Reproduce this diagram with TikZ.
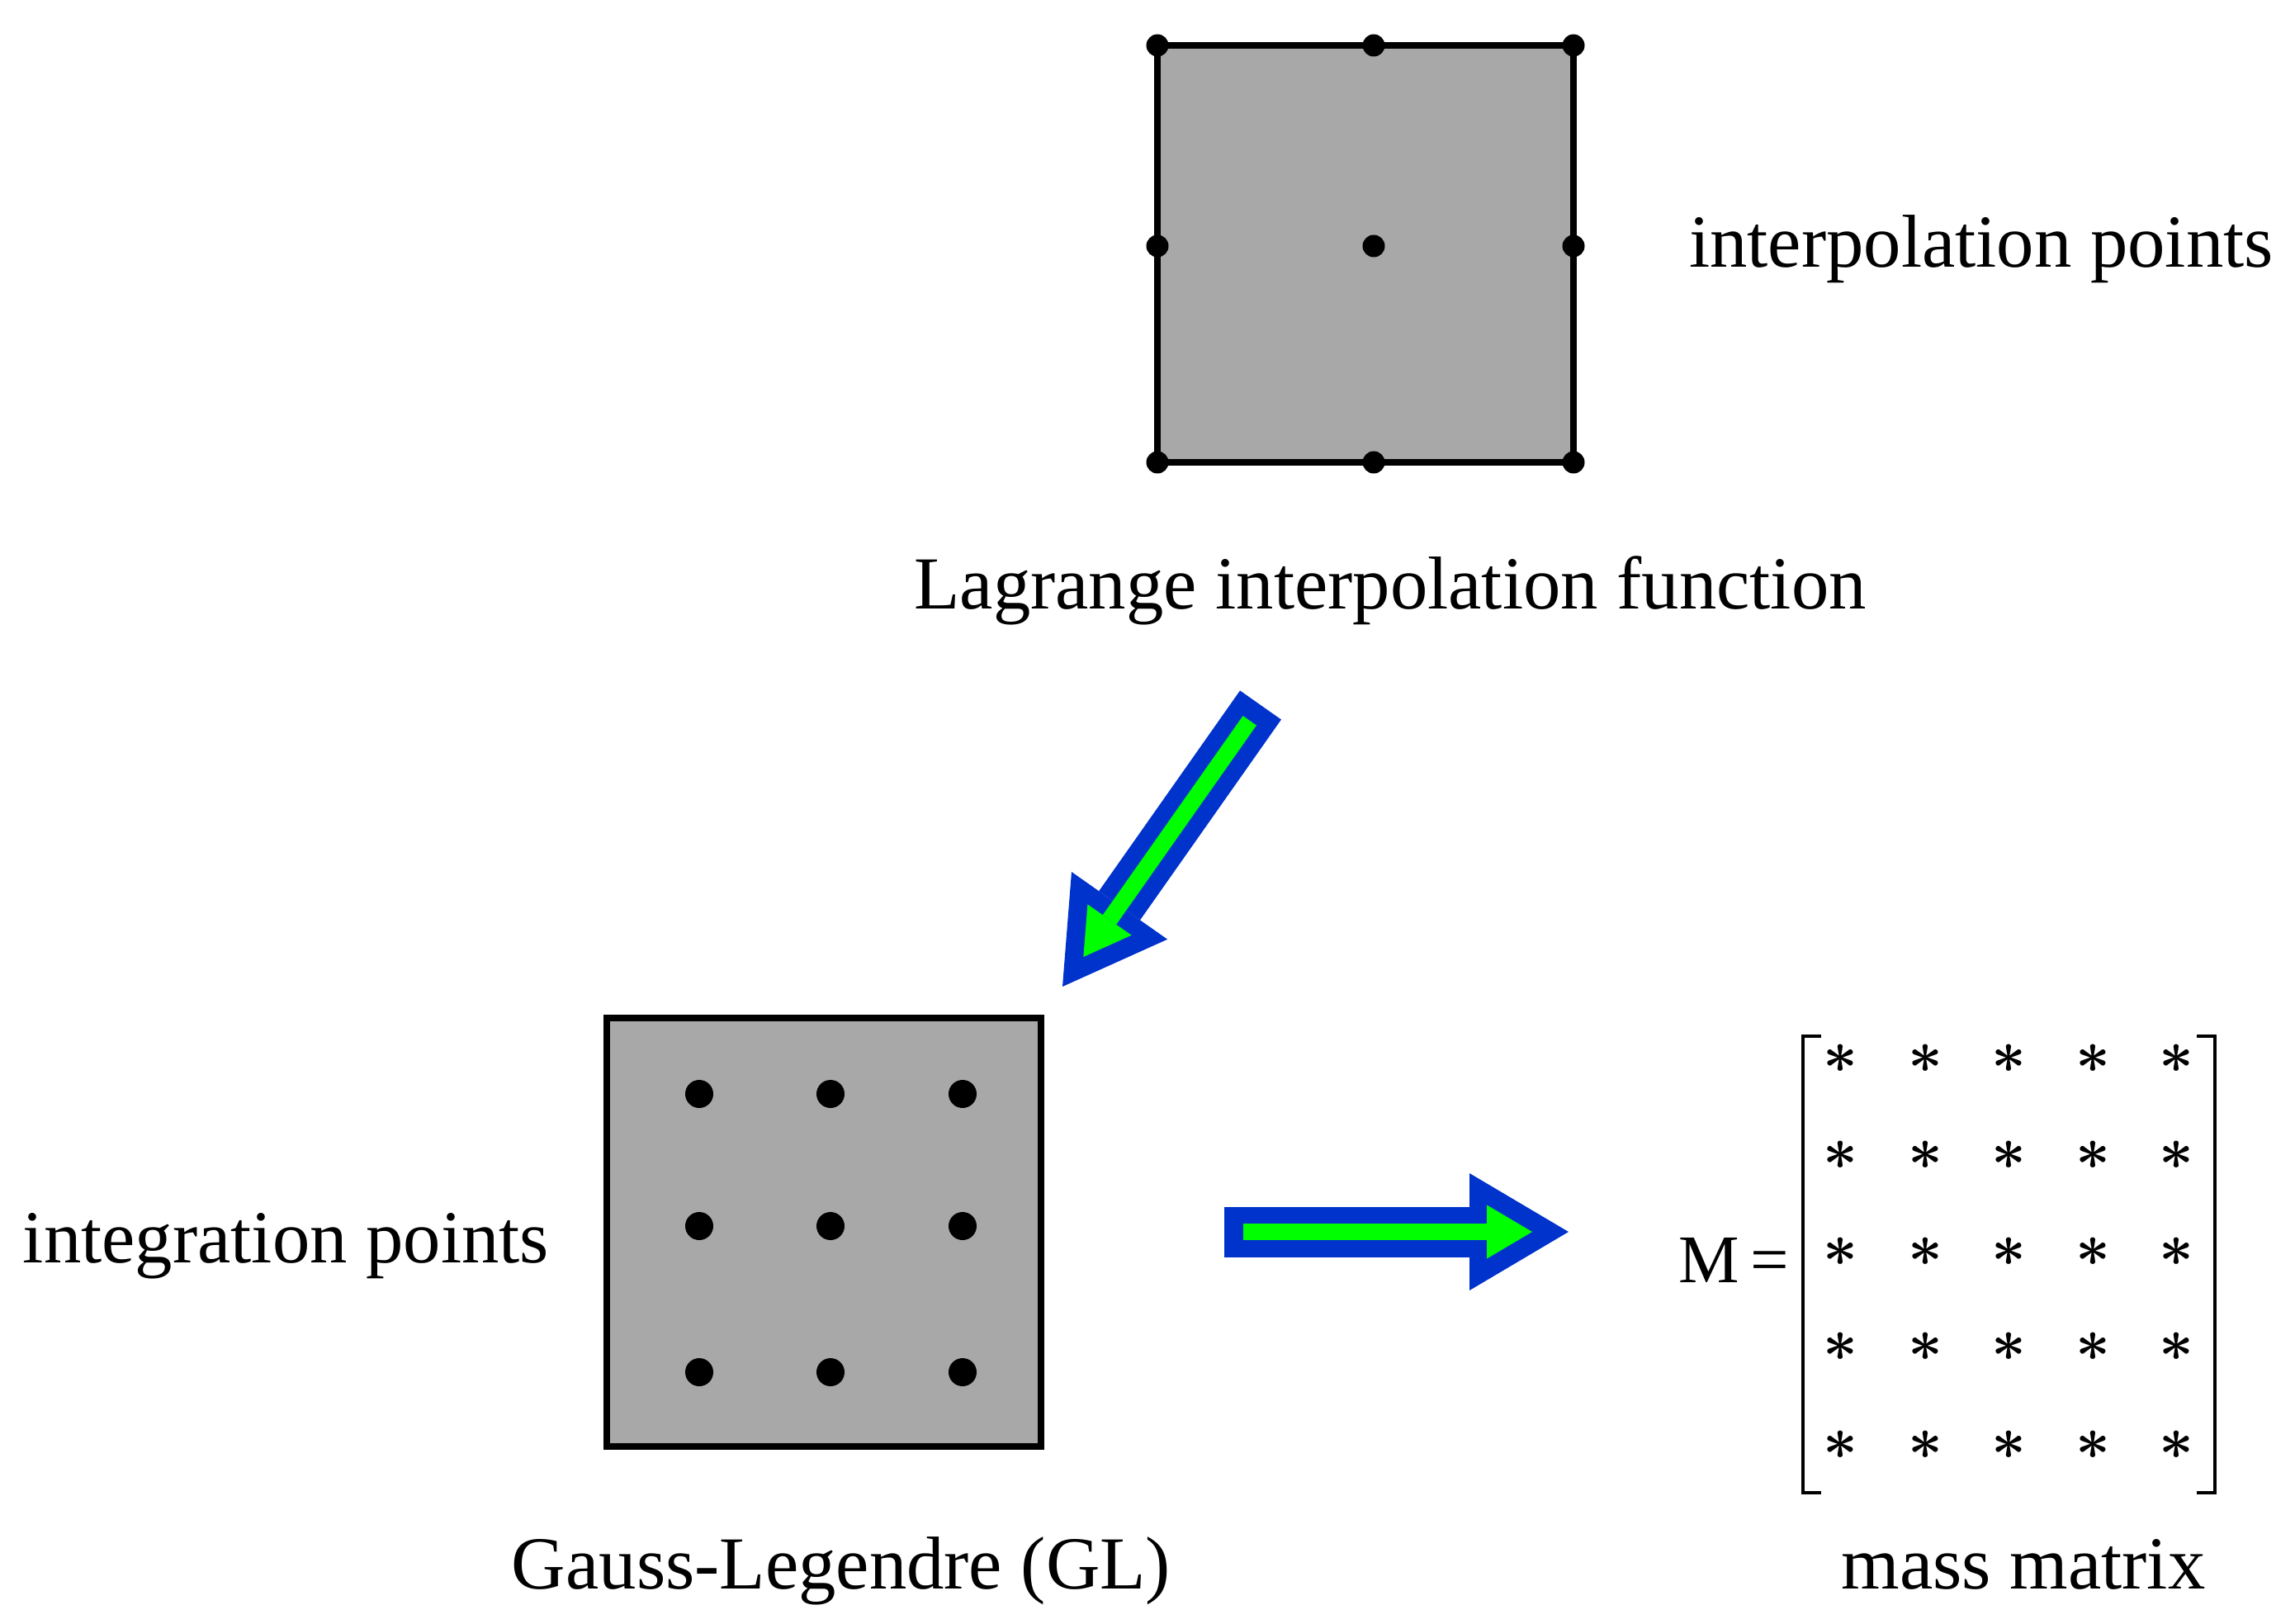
\documentclass[tikz,border=0pt]{standalone}
\usepackage{fontspec}
\setmainfont{Liberation Serif}
\usetikzlibrary{arrows.meta}

\definecolor{elemgray}{HTML}{A8A8A8}
\definecolor{arrblue}{HTML}{0033CC}
\definecolor{arrgreen}{HTML}{00FF00}

\tikzset{
  elem/.style={draw, fill=elemgray, line width=0.08cm, inner sep=0pt, outer sep=0pt},
  lbl/.style={font=\fontsize{25.8}{30}\selectfont, anchor=base, inner sep=0pt},
  entry/.style={font=\fontsize{22}{22}\selectfont\boldmath, inner sep=0pt},
  brk/.style={line width=0.045cm},
  fatarrow/.style={arrblue, line width=0.61cm,
    -{Triangle[length=1.2cm,width=1.42cm,line width=0pt]}},
  thinarrow/.style={arrgreen, line width=0.2cm,
    -{Triangle[length=0.55cm,width=0.65cm,line width=0pt]},
    shorten <=0.23cm, shorten >=0.44cm},
}

\begin{document}
\begin{tikzpicture}
    \useasboundingbox (0,0) rectangle (27.8,-19.67);

    % elements
    \node[elem, minimum width=5.04cm, minimum height=5.05cm] (lagsq) at (16.54,-3.075) {};
    \node[elem, minimum width=5.26cm, minimum height=5.19cm] (glsq) at (9.98,-14.925) {};

    % points
    \foreach \x in {14.02,16.64,19.06}
      \foreach \y in {0.55,2.98,5.60}
        \fill (\x,-\y) circle (0.135);
    \foreach \x in {8.47,10.06,11.66}
      \foreach \y in {13.25,14.85,16.62}
        \fill (\x,-\y) circle (0.17);

    % labels
    \node[lbl] (iptxt) at (24.00,-3.24) {interpolation points};
    \node[lbl] (lagtxt) at (16.84,-7.38) {Lagrange interpolation function};
    \node[lbl] (igtxt) at (3.465,-15.29) {integration points};
    \node[lbl] (gltxt) at (10.19,-19.24) {Gauss-Legendre (GL)};
    \node[lbl] (mmtxt) at (24.51,-19.24) {mass matrix};

    % matrix
    \node[lbl, font=\fontsize{23.5}{28}\selectfont] (mlbl) at (21.00,-15.53) {M\,=};
    \foreach \x [count=\i] in {22.29,23.32,24.33,25.35,26.36}
      \foreach \y [count=\j] in {12.82,13.99,15.16,16.31,17.50}
        \node[entry] (m\i\j) at (\x,-\y) {$\ast$};
    \draw[brk] (22.06,-12.55) -- (21.84,-12.55) -- (21.84,-18.08) -- (22.06,-18.08);
    \draw[brk] (26.61,-12.55) -- (26.83,-12.55) -- (26.83,-18.08) -- (26.61,-18.08);

    % arrows
    \coordinate (d1) at (15.27,-8.54);
    \coordinate (d2) at (12.87,-11.95);
    \coordinate (h1) at (14.83,-14.92);
    \coordinate (h2) at (19.00,-14.92);
    \draw[fatarrow] (d1) -- (d2);
    \draw[thinarrow] (d1) -- (d2);
    \draw[fatarrow] (h1) -- (h2);
    \draw[thinarrow] (h1) -- (h2);

\end{tikzpicture}
\end{document}
